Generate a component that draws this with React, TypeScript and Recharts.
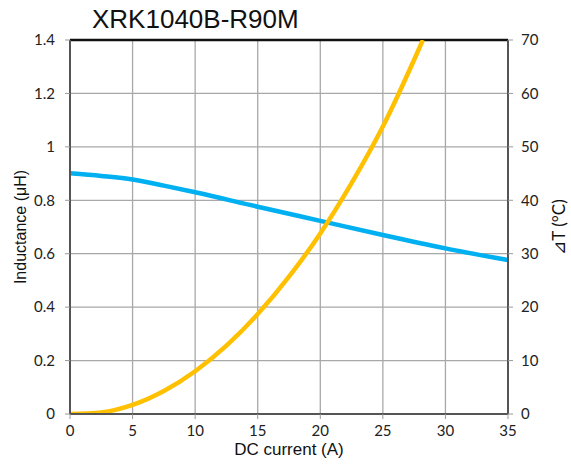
import React from "react";
import {
  ComposedChart,
  Line,
  XAxis,
  YAxis,
  CartesianGrid,
  ReferenceLine,
} from "recharts";

const title = "XRK1040B-R90M";

const currentTicks = [0, 5, 10, 15, 20, 25, 30, 35];
const inductanceTicks = [0, 0.2, 0.4, 0.6, 0.8, 1, 1.2, 1.4];
const tempTicks = [0, 10, 20, 30, 40, 50, 60, 70];

const inductanceCurrent = [0, 2.5, 5, 7.5, 10, 15, 20, 25, 30, 35];
const inductanceValues = [0.901, 0.891, 0.878, 0.855, 0.83, 0.776, 0.723, 0.67, 0.62, 0.576];

const tempCurrent = [0, 2.5, 5, 7.5, 10, 12.5, 15, 17.5, 20, 22.5, 25, 27.5, 28.2];
const tempValues = [0, 0.3, 1.7, 4.3, 8.0, 12.8, 18.7, 25.7, 33.8, 43.2, 53.8, 66.3, 70];

const inductanceData = inductanceCurrent.map((x, i) => ({ x, L: inductanceValues[i] }));
const tempData = tempCurrent.map((x, i) => ({ x, T: tempValues[i] }));

const tickFont = { fontFamily: "Lato, 'Open Sans', sans-serif", fontSize: 15, fill: "#222" };
const labelFont = "'Liberation Sans', Arial, sans-serif";

export default function App() {
  return (
    <div style={{ position: "absolute", left: 0, top: 0, width: 571, height: 476, background: "#fff" }}>
      <div
        style={{
          position: "absolute",
          left: 92,
          top: 4,
          fontFamily: labelFont,
          fontSize: 26,
          color: "#111",
          lineHeight: "30px",
          whiteSpace: "nowrap",
        }}
      >
        {title}
      </div>
      <ComposedChart
        width={571}
        height={476}
        margin={{ top: 40, right: 18, bottom: 22, left: 30 }}
      >
        <CartesianGrid
          yAxisId="left"
          stroke="#a8a8a8"
          strokeWidth={1.3}
          verticalValues={currentTicks.slice(1, -1)}
          horizontalValues={inductanceTicks.slice(1, -1)}
        />
        <XAxis
          type="number"
          dataKey="x"
          domain={[0, 35]}
          ticks={currentTicks}
          allowDataOverflow
          height={40}
          tick={tickFont}
          tickSize={5}
          tickMargin={6}
          axisLine={{ stroke: "#555", strokeWidth: 2 }}
          tickLine={{ stroke: "#999" }}
          label={{
            value: "DC current (A)",
            position: "insideBottom",
            offset: -1,
            style: { fontFamily: labelFont, fontSize: 17, fill: "#111" },
          }}
        />
        <YAxis
          yAxisId="left"
          type="number"
          domain={[0, 1.4]}
          ticks={inductanceTicks}
          allowDataOverflow
          width={40}
          tick={tickFont}
          tickSize={5}
          tickMargin={10}
          axisLine={{ stroke: "#555", strokeWidth: 2 }}
          tickLine={{ stroke: "#999" }}
          label={{
            value: "Inductance (μH)",
            angle: -90,
            position: "insideLeft",
            offset: -10,
            style: { textAnchor: "middle", fontFamily: labelFont, fontSize: 16, fill: "#111" },
          }}
        />
        <YAxis
          yAxisId="right"
          orientation="right"
          type="number"
          domain={[0, 70]}
          ticks={tempTicks}
          allowDataOverflow
          width={45}
          tick={tickFont}
          tickSize={5}
          tickMargin={8}
          axisLine={{ stroke: "#555", strokeWidth: 2 }}
          tickLine={{ stroke: "#999" }}
          label={{
            value: "⊿T (°C)",
            angle: -90,
            position: "insideRight",
            offset: -6,
            style: { textAnchor: "middle", fontFamily: "Lato, 'Open Sans', sans-serif", fontSize: 17, fill: "#111" },
          }}
        />
        <ReferenceLine yAxisId="left" y={1.4} stroke="#111" strokeWidth={2.5} />
        <Line
          yAxisId="left"
          data={inductanceData}
          dataKey="L"
          type="monotone"
          stroke="#00B0F0"
          strokeWidth={4.5}
          dot={false}
          isAnimationActive={false}
        />
        <Line
          yAxisId="right"
          data={tempData}
          dataKey="T"
          type="monotone"
          stroke="#FFC000"
          strokeWidth={4.5}
          dot={false}
          isAnimationActive={false}
        />
      </ComposedChart>
    </div>
  );
}
